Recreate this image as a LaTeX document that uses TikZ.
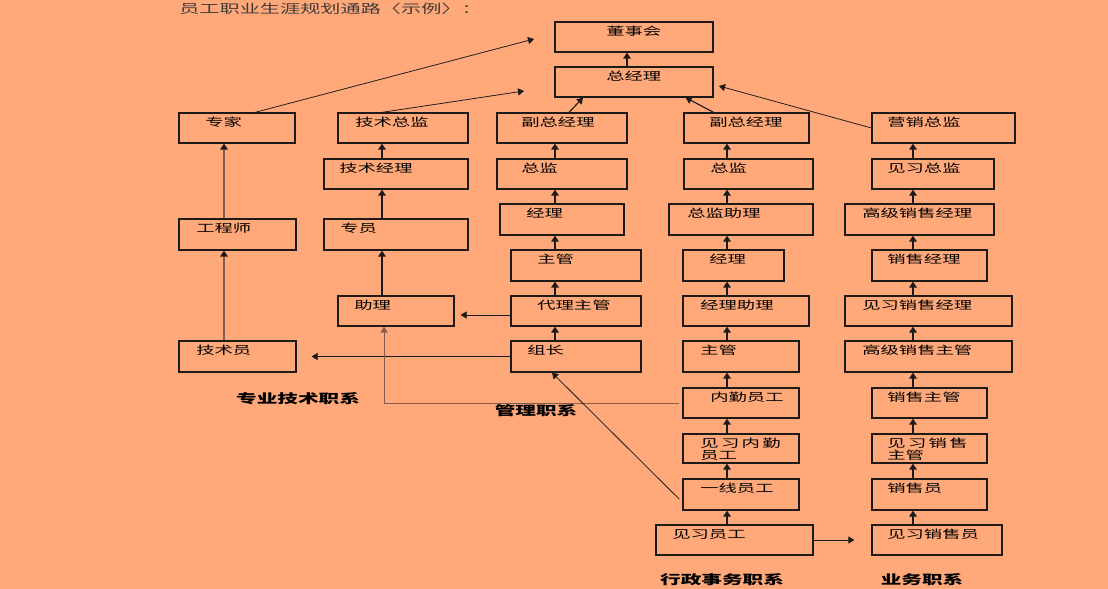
\documentclass[tikz,border=0pt]{standalone}
\usepackage{fontspec}
\usetikzlibrary{arrows.meta}
\newfontfamily\cjk[FakeStretch=1.63]{Noto Sans CJK SC}
\definecolor{paper}{RGB}{255,169,122}
\definecolor{rust}{RGB}{135,92,78}
\definecolor{ink}{RGB}{30,26,24}

\tikzset{
  post/.style={draw=ink, line width=0.9pt, inner sep=0pt},
  posttext/.style={anchor=west, inner sep=0pt, align=left,
    font=\cjk\fontsize{8pt}{8.5pt}\selectfont},
  branch/.style={font=\cjk\bfseries\fontsize{9pt}{10pt}\selectfont, inner sep=0pt},
  rise/.style={-{Triangle[length=1.5mm,width=1.9mm,color=ink]}, line width=1pt, ink},
  feed/.style={-{Triangle[length=1.5mm,width=1.8mm]}, line width=0.55pt, ink},
}
% box: name, x1, y1, x2, y2, text x, text
\newcommand{\post}[7]{%
  \node[post, minimum width={(#4-#2)*0.25mm}, minimum height={(#5-#3)*0.25mm}]
    (#1) at ({(#2+#4)/2},{(#3+#5)/2}) {};
  \node[posttext] (#1t) at (#6,#3+9.5) {#7};
}
\newcommand{\posttwo}[7]{%
  \node[post, minimum width={(#4-#2)*0.25mm}, minimum height={(#5-#3)*0.25mm}]
    (#1) at ({(#2+#4)/2},{(#3+#5)/2}) {};
  \node[posttext] (#1t) at (#6,#3+15) {#7};
}
\newcommand{\cgap}{\hspace{0.6mm}}

\begin{document}
\begin{tikzpicture}[x=0.25mm,y=-0.25mm]
\fill[paper] (0,0) rectangle (1108,589);
\useasboundingbox (0,0) rectangle (1108,589);
\node[anchor=west, inner sep=0pt, text=ink!85, font=\cjk\fontsize{8.8pt}{10pt}\selectfont]
  (title) at (179,9) {员工职业生涯规划通路〈示例〉：};
% top
\post{board}{555}{22}{713}{52}{606}{董事会}
\post{gm}{555}{67}{713}{97}{606}{总经理}
% technical
\post{expert}{179}{113}{295}{143}{205}{专家}
\post{engineer}{179}{219}{296}{250}{196}{工程师}
\post{technician}{179}{341}{296}{372}{196}{技术员}
\post{techdir}{338}{113}{468}{143}{355}{技术总监}
\post{techmgr}{324}{159}{468}{189}{339}{技术经理}
\post{specialist}{324}{219}{468}{250}{340}{专员}
\post{assistant}{338}{296}{454}{326}{354}{助理}
% management
\post{mvp}{497}{113}{627}{143}{521}{副总经理}
\post{mdir}{497}{159}{627}{189}{521}{总监}
\post{mmgr}{500}{204}{624}{235}{526}{经理}
\post{msup}{511}{250}{641}{281}{537}{主管}
\post{mact}{511}{296}{641}{326}{537}{代理主管}
\post{mlead}{511}{341}{641}{372}{527}{组长}
% administration
\post{avp}{684}{113}{809}{143}{709}{副总经理}
\post{adir}{684}{159}{813}{189}{710}{总监}
\post{adirasst}{669}{204}{813}{235}{687}{总监助理}
\post{amgr}{683}{250}{784}{281}{709}{经理}
\post{amgrasst}{683}{296}{809}{326}{700}{经理助理}
\post{asup}{683}{341}{799}{372}{700}{主管}
\post{aclerk}{683}{388}{799}{418}{710}{内勤员工}
\posttwo{atrainee}{683}{434}{799}{463}{700}{见\cgap 习\cgap 内\cgap 勤\\员工}
\post{afront}{683}{479}{799}{510}{700}{一线员工}
\post{anew}{656}{525}{813}{555}{672}{见习员工}
% sales
\post{sdir}{872}{113}{1015}{143}{887}{营销总监}
\post{sdirtr}{872}{159}{994}{189}{887}{见习总监}
\post{ssmgr}{845}{204}{994}{235}{862}{高级销售经理}
\post{smgr}{872}{250}{987}{281}{887}{销售经理}
\post{smgrtr}{845}{296}{1012}{326}{862}{见习销售经理}
\post{sssup}{845}{341}{1012}{372}{862}{高级销售主管}
\post{ssup}{872}{388}{987}{418}{887}{销售主管}
\posttwo{ssuptr}{872}{434}{987}{463}{887}{见\cgap 习\cgap 销\cgap 售\\主管}
\post{srep}{872}{479}{987}{510}{887}{销售员}
\post{sreptr}{872}{525}{1002}{555}{887}{见习销售员}
% branch names
\node[branch] (techline) at (298,399) {专业技术职系};
\node[branch] (mgmtline) at (536,411) {管理职系};
\node[branch] (adminline) at (722,580) {行政事务职系};
\node[branch] (salesline) at (922,580) {业务职系};
% column x positions and free ends
\coordinate (c0) at (627,0);
\coordinate (c1) at (224,0);
\coordinate (c2) at (382,0);
\coordinate (c3) at (555,0);
\coordinate (c4) at (727,0);
\coordinate (c5) at (913,0);
\coordinate (toboard) at (534,39);
\coordinate (togm) at (524,91);
\coordinate (togmr) at (719,86);
% upward arrows
\draw[rise] (gm.north -| c0) -- (board.south -| c0);
\draw[rise, rust] (technician.north -| c1) -- (engineer.south -| c1);
\draw[rise, rust] (engineer.north -| c1) -- (expert.south -| c1);
\draw[rise] (assistant.north -| c2) -- (specialist.south -| c2);
\draw[rise] (specialist.north -| c2) -- (techmgr.south -| c2);
\draw[rise] (techmgr.north -| c2) -- (techdir.south -| c2);
\draw[rise] (mlead.north -| c3) -- (mact.south -| c3);
\draw[rise] (mact.north -| c3) -- (msup.south -| c3);
\draw[rise] (msup.north -| c3) -- (mmgr.south -| c3);
\draw[rise] (mmgr.north -| c3) -- (mdir.south -| c3);
\draw[rise] (mdir.north -| c3) -- (mvp.south -| c3);
\draw[rise] (anew.north -| c4) -- (afront.south -| c4);
\draw[rise] (afront.north -| c4) -- (atrainee.south -| c4);
\draw[rise] (atrainee.north -| c4) -- (aclerk.south -| c4);
\draw[rise] (aclerk.north -| c4) -- (asup.south -| c4);
\draw[rise] (asup.north -| c4) -- (amgrasst.south -| c4);
\draw[rise] (amgrasst.north -| c4) -- (amgr.south -| c4);
\draw[rise] (amgr.north -| c4) -- (adirasst.south -| c4);
\draw[rise] (adirasst.north -| c4) -- (adir.south -| c4);
\draw[rise] (adir.north -| c4) -- (avp.south -| c4);
\draw[rise] (sreptr.north -| c5) -- (srep.south -| c5);
\draw[rise] (srep.north -| c5) -- (ssuptr.south -| c5);
\draw[rise] (ssuptr.north -| c5) -- (ssup.south -| c5);
\draw[rise] (ssup.north -| c5) -- (sssup.south -| c5);
\draw[rise] (sssup.north -| c5) -- (smgrtr.south -| c5);
\draw[rise] (smgrtr.north -| c5) -- (smgr.south -| c5);
\draw[rise] (smgr.north -| c5) -- (ssmgr.south -| c5);
\draw[rise] (ssmgr.north -| c5) -- (sdirtr.south -| c5);
\draw[rise] (sdirtr.north -| c5) -- (sdir.south -| c5);
% links to the top
\draw[feed] ([xshift=4.5mm]expert.north) -- (toboard);
\draw[feed] (techdir.north -| c2) -- (togm);
\draw[feed, line width=0.8pt] ([xshift=3.5mm]mvp.north -| c3) -- ([xshift=-12.75mm]gm.south);
\draw[feed, line width=0.8pt] ([xshift=-24mm]avp.north east) -- ([xshift=-7mm]gm.south east);
\draw[feed] (sdir.west) -- (togmr);
% cross links
\draw[feed] ([yshift=-1mm]mact.west) -- ([yshift=-1mm,xshift=1.5mm]assistant.east);
\draw[feed] (mlead.west) -- ([xshift=3.75mm]technician.east);
\draw[feed, rust] ([xshift=-0.75mm]aclerk.west) -| ([xshift=-3mm]assistant.south);
\draw[feed] ([xshift=-0.75mm,yshift=-1.2mm]afront.west) -- ([xshift=-6mm]mlead.south);
\draw[feed] (anew.east) -- ([xshift=-4.25mm]sreptr.west);
\end{tikzpicture}
\end{document}
